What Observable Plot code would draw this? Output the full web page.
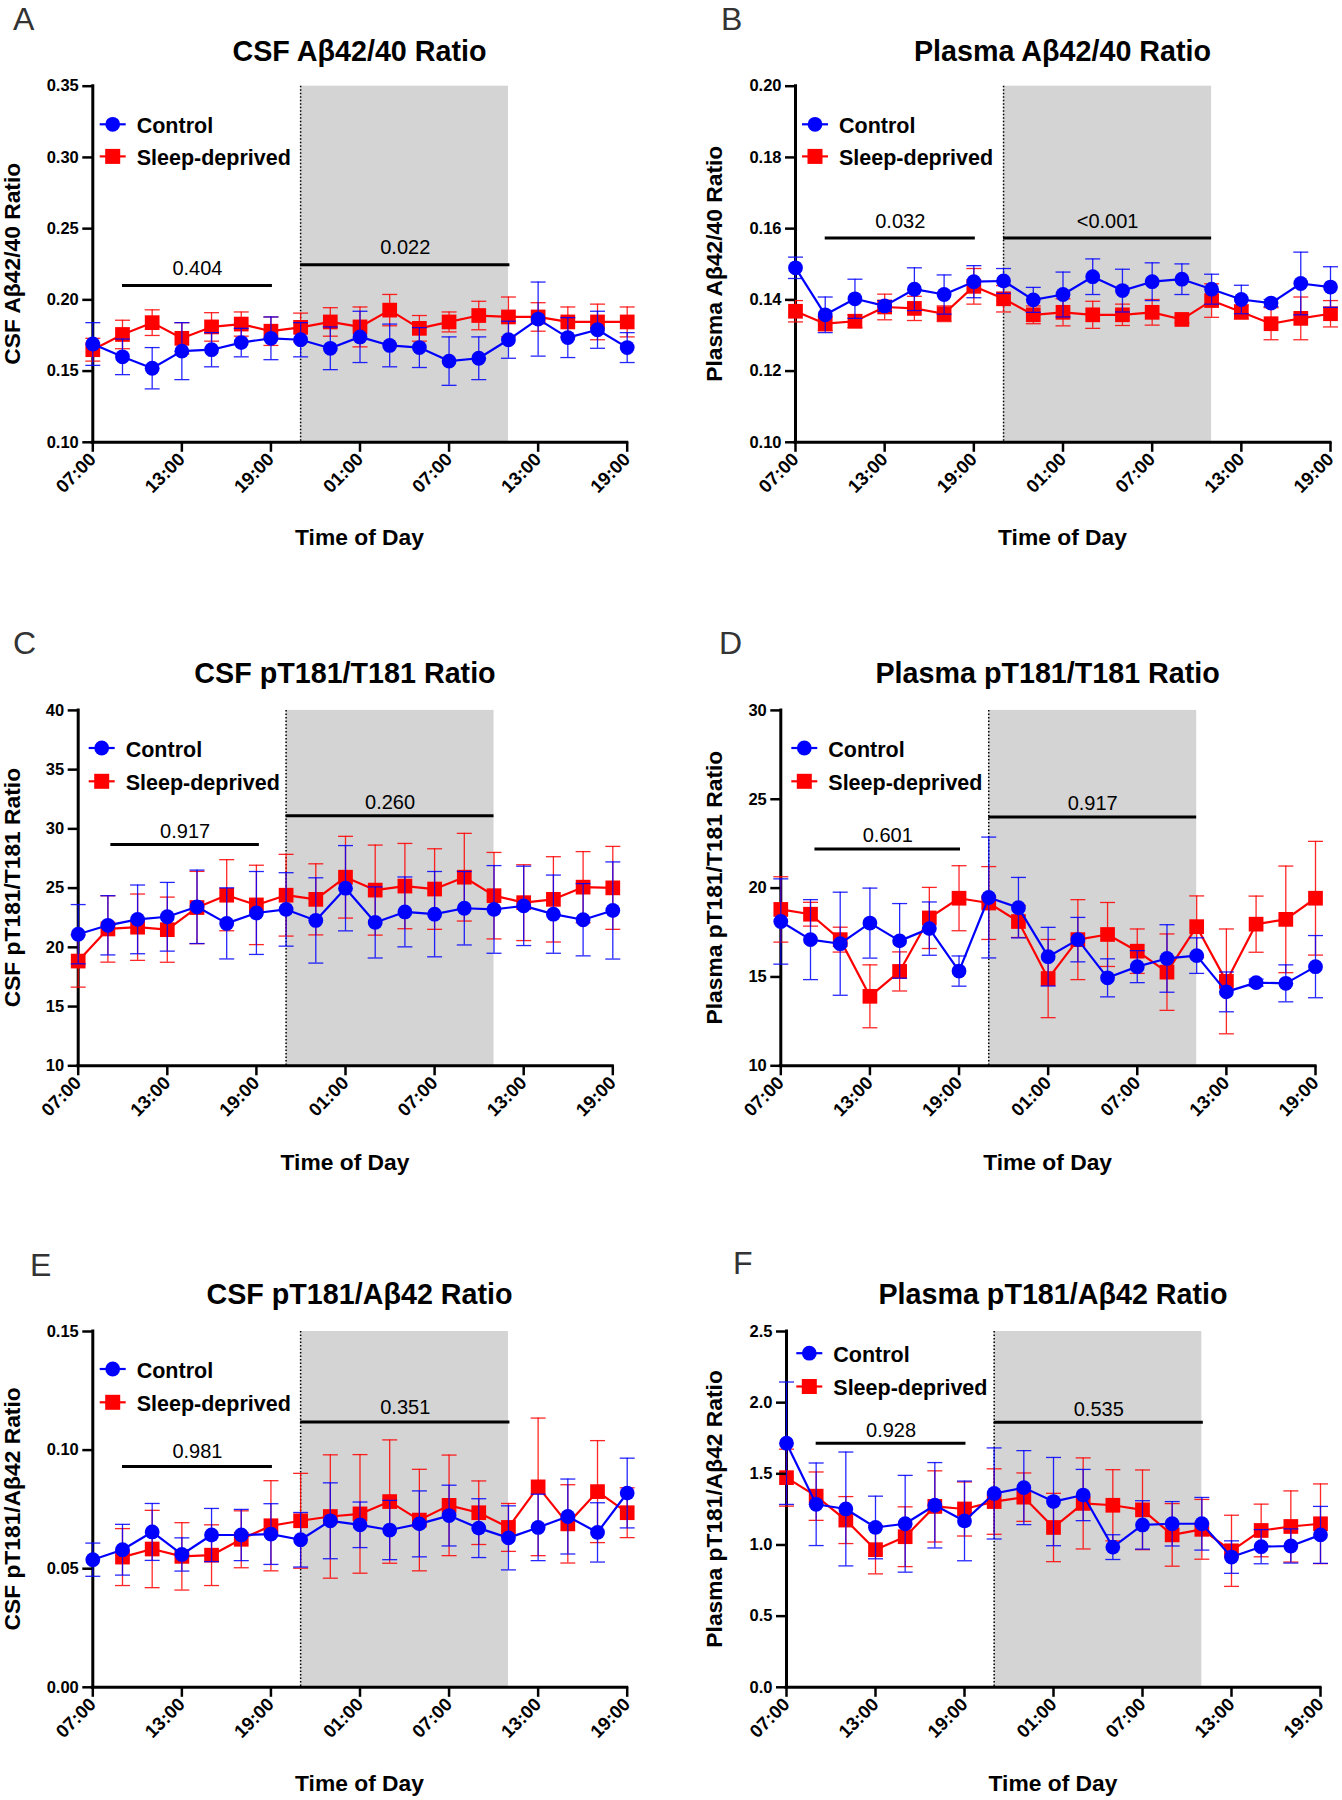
<!DOCTYPE html>
<html><head><meta charset="utf-8">
<script src="https://cdn.jsdelivr.net/npm/d3@7"></script>
<script src="https://cdn.jsdelivr.net/npm/@observablehq/plot@0.6"></script>
<style>
body{margin:0;background:#fff;}
#root{position:relative;width:1342px;height:1800px;overflow:hidden;background:#fff;}
#root svg{position:absolute;}
</style></head><body><div id="root"></div>
<script>
// ---------- DATA ----------
const hours = [0,2,4,6,8,10,12,14,16,18,20,22,24,26,28,30,32,34,36]; // hours after 07:00
const xDomain = [0, 36];
const xTickHours = [0,6,12,18,24,30,36];
const xTickLabels = ["07:00","13:00","19:00","01:00","07:00","13:00","19:00"];
const seriesNames = ["Control","Sleep-deprived"];
const nightStart = 14, nightEnd = 28; // 21:00 -> 11:00

// A: CSF Aβ42/40
const csfAb_ctrl = [0.169,0.160,0.152,0.164,0.165,0.170,0.173,0.172,0.166,0.174,0.168,0.1665,0.157,0.159,0.172,0.1865,0.1735,0.179,0.1665];
const csfAb_ctrlSem = [0.015,0.0125,0.0145,0.020,0.012,0.010,0.015,0.012,0.015,0.018,0.015,0.014,0.017,0.015,0.013,0.026,0.014,0.013,0.0105];
const csfAb_sd = [0.165,0.1757,0.184,0.173,0.181,0.183,0.178,0.1807,0.1845,0.181,0.1928,0.180,0.1845,0.189,0.188,0.188,0.1845,0.1845,0.1845];
const csfAb_sdSem = [0.008,0.010,0.009,0.011,0.010,0.0085,0.010,0.010,0.010,0.014,0.011,0.009,0.007,0.010,0.014,0.010,0.0105,0.0125,0.0105];
const csfAb_yTicks = [0.10,0.15,0.20,0.25,0.30,0.35];
const csfAb_sig = [{x1:2,x2:12.1,y:0.21,label:"0.404"},{x1:14,x2:28.1,y:0.2246,label:"0.022"}];

// B: Plasma Aβ42/40
const plAb_ctrl = [0.149,0.1358,0.1403,0.1383,0.143,0.1415,0.1451,0.1453,0.140,0.1415,0.1465,0.1426,0.1451,0.1458,0.143,0.1401,0.1391,0.1446,0.1436];
const plAb_ctrlSem = [0.003,0.005,0.0055,0.0015,0.006,0.0055,0.0045,0.0035,0.0035,0.0063,0.005,0.006,0.0053,0.0043,0.0042,0.004,0.001,0.0088,0.0057];
const plAb_sd = [0.1368,0.1333,0.134,0.138,0.1376,0.1361,0.1438,0.1403,0.1358,0.1365,0.1358,0.1358,0.1365,0.1345,0.1398,0.1366,0.1333,0.1348,0.1361];
const plAb_sdSem = [0.003,0.002,0.0018,0.0036,0.0034,0.0022,0.005,0.0037,0.0025,0.0038,0.0038,0.003,0.0036,0.001,0.0047,0.002,0.0045,0.006,0.0037];
const plAb_yTicks = [0.10,0.12,0.14,0.16,0.18,0.20];
const plAb_sig = [{x1:2,x2:12.1,y:0.1574,label:"0.032"},{x1:14,x2:28,y:0.1574,label:"<0.001"}];

// C: CSF pT181/T181
const csfPt_ctrl = [21.11,21.86,22.36,22.58,23.42,22.02,22.9,23.2,22.27,24.99,22.1,22.99,22.8,23.3,23.2,23.5,22.8,22.33,23.11];
const csfPt_ctrlSem = [2.5,2.5,2.9,2.9,3.1,3.0,3.5,3.1,3.6,3.6,3.0,2.95,3.6,3.1,3.7,3.35,3.3,3.05,4.1];
const csfPt_sd = [18.84,21.55,21.7,21.49,23.36,24.4,23.58,24.4,24.05,25.92,24.83,25.17,24.92,25.92,24.36,23.77,24.05,25.08,25.02];
const csfPt_sdSem = [2.2,2.8,2.8,2.75,3.05,3.0,3.35,3.45,3.0,3.45,3.8,3.6,3.4,3.7,3.65,3.2,3.6,3.0,3.5];
const csfPt_yTicks = [10,15,20,25,30,35,40];
const csfPt_sig = [{x1:2.2,x2:12.2,y:28.67,label:"0.917"},{x1:14,x2:28,y:31.1,label:"0.260"}];

// D: Plasma pT181/T181
const plPt_ctrl = [18.12,17.1,16.87,18.03,17.03,17.72,15.33,19.47,18.9,16.14,17.1,14.95,15.58,16.04,16.2,14.16,14.68,14.64,15.58];
const plPt_ctrlSem = [2.4,2.25,2.9,1.97,2.1,1.5,0.85,3.4,1.7,1.65,1.25,1.07,0.9,1.9,1.0,1.12,0.2,1.04,1.75];
const plPt_sd = [18.8,18.53,17.1,13.91,15.31,18.32,19.43,19.16,18.12,14.91,17.1,17.39,16.45,15.27,17.83,14.75,17.97,18.24,19.43];
const plPt_sdSem = [1.84,0.67,0.7,1.77,1.1,1.72,1.83,2.05,0.9,2.2,2.25,1.8,1.25,2.15,1.73,2.95,1.58,3.0,3.2];
const plPt_yTicks = [10,15,20,25,30];
const plPt_sig = [{x1:2.3,x2:12.1,y:22.2,label:"0.601"},{x1:14,x2:28,y:24.0,label:"0.917"}];

// E: CSF pT181/Aβ42
const csfPtAb_ctrl = [0.0538,0.058,0.0655,0.056,0.0642,0.0642,0.0646,0.0622,0.0702,0.0685,0.0663,0.0689,0.0724,0.0671,0.063,0.0674,0.072,0.0653,0.0819];
const csfPtAb_ctrlSem = [0.007,0.0107,0.012,0.007,0.0112,0.0108,0.0128,0.0115,0.016,0.0096,0.0125,0.0139,0.0128,0.0124,0.0135,0.014,0.0158,0.0125,0.0147];
const csfPtAb_sd = [null,0.0549,0.0583,0.0552,0.0557,0.0624,0.0681,0.0702,0.072,0.0731,0.0783,0.0705,0.0767,0.0736,0.0674,0.0845,0.0689,0.0825,0.0736];
const csfPtAb_sdSem = [null,0.012,0.0163,0.0142,0.0128,0.012,0.019,0.020,0.026,0.025,0.026,0.0214,0.0212,0.0134,0.0101,0.029,0.0165,0.0215,0.0105];
const csfPtAb_yTicks = [0.00,0.05,0.10,0.15];
const csfPtAb_sig = [{x1:2,x2:12.1,y:0.0931,label:"0.981"},{x1:14,x2:28.1,y:0.1118,label:"0.351"}];

// F: Plasma pT181/Aβ42
const plPtAb_ctrl = [1.715,1.286,1.253,1.123,1.149,1.279,1.169,1.362,1.403,1.305,1.351,0.985,1.141,1.149,1.149,0.915,0.988,0.993,1.071];
const plPtAb_ctrlSem = [0.43,0.29,0.4,0.22,0.34,0.3,0.28,0.32,0.26,0.31,0.18,0.087,0.17,0.156,0.185,0.114,0.12,0.12,0.2];
const plPtAb_sd = [1.473,1.343,1.175,0.967,1.058,1.271,1.253,1.305,1.336,1.123,1.292,1.279,1.247,1.071,1.11,0.959,1.102,1.13,1.149];
const plPtAb_sdSem = [0.2,0.17,0.165,0.17,0.21,0.25,0.19,0.23,0.17,0.24,0.32,0.25,0.28,0.22,0.21,0.25,0.185,0.25,0.28];
const plPtAb_yTicks = [0.0,0.5,1.0,1.5,2.0,2.5];
const plPtAb_sig = [{x1:2,x2:12.1,y:1.715,label:"0.928"},{x1:14,x2:28.1,y:1.863,label:"0.535"}];

// ---------- LAYOUT ----------
const FONT = '"Liberation Sans", Arial, Helvetica, sans-serif';
const BLUE = "#0000ff", RED = "#ff0000";
const panels = [
  {letter:"A", letterPos:[13,30.4], title:"CSF Aβ42/40 Ratio", ylab:"CSF Aβ42/40 Ratio",
   ctrl:csfAb_ctrl, ctrlSem:csfAb_ctrlSem, sd:csfAb_sd, sdSem:csfAb_sdSem, yTicks:csfAb_yTicks, fmt:".2f", sig:csfAb_sig,
   col:0, svgTop:65, svgH:440, frame:[92.3,626.7,85.7,441.8], titleY:60.7, xlabY:544.6, ylabX:20, legend:[112.7,124.3,32.1], gap:11},
  {letter:"B", letterPos:[721,30.4], title:"Plasma Aβ42/40 Ratio", ylab:"Plasma Aβ42/40 Ratio",
   ctrl:plAb_ctrl, ctrlSem:plAb_ctrlSem, sd:plAb_sd, sdSem:plAb_sdSem, yTicks:plAb_yTicks, fmt:".2f", sig:plAb_sig,
   col:1, svgTop:65, svgH:440, frame:[795,1330,85.7,441.8], titleY:60.7, xlabY:544.6, ylabX:722, legend:[815,124.3,32.1], gap:10},
  {letter:"C", letterPos:[13,653.6], title:"CSF pT181/T181 Ratio", ylab:"CSF pT181/T181 Ratio",
   ctrl:csfPt_ctrl, ctrlSem:csfPt_ctrlSem, sd:csfPt_sd, sdSem:csfPt_sdSem, yTicks:csfPt_yTicks, fmt:"d", sig:csfPt_sig,
   col:0, svgTop:690, svgH:440, frame:[77.7,612.3,709.9,1065.3], titleY:683.2, xlabY:1169.6, ylabX:20, legend:[101.7,748,33.3], gap:7},
  {letter:"D", letterPos:[719,653.6], title:"Plasma pT181/T181 Ratio", ylab:"Plasma pT181/T181 Ratio",
   ctrl:plPt_ctrl, ctrlSem:plPt_ctrlSem, sd:plPt_sd, sdSem:plPt_sdSem, yTicks:plPt_yTicks, fmt:"d", sig:plPt_sig,
   col:1, svgTop:690, svgH:440, frame:[780.3,1315,709.9,1065.3], titleY:683.2, xlabY:1169.6, ylabX:722, legend:[804.3,748,33.3], gap:7},
  {letter:"E", letterPos:[30,1275.5], title:"CSF pT181/Aβ42 Ratio", ylab:"CSF pT181/Aβ42 Ratio",
   ctrl:csfPtAb_ctrl, ctrlSem:csfPtAb_ctrlSem, sd:csfPtAb_sd, sdSem:csfPtAb_sdSem, yTicks:csfPtAb_yTicks, fmt:".2f", sig:csfPtAb_sig,
   col:0, svgTop:1310, svgH:440, frame:[92.3,626.7,1331,1686.8], titleY:1304.3, xlabY:1790.8, ylabX:20, legend:[112.7,1369,33.3], gap:8},
  {letter:"F", letterPos:[733,1273.6], title:"Plasma pT181/Aβ42 Ratio", ylab:"Plasma pT181/Aβ42 Ratio",
   ctrl:plPtAb_ctrl, ctrlSem:plPtAb_ctrlSem, sd:plPtAb_sd, sdSem:plPtAb_sdSem, yTicks:plPtAb_yTicks, fmt:".1f", sig:plPtAb_sig,
   col:1, svgTop:1310, svgH:440, frame:[786,1320,1331,1686.8], titleY:1304.3, xlabY:1790.8, ylabX:722, legend:[809.3,1353.2,33.3], gap:6.5}
];

const capSymbol = {draw(ctx, size){ const w = Math.sqrt(size/Math.PI); ctx.moveTo(-w,0); ctx.lineTo(w,0); }};
const root = document.getElementById("root");

function rowsOf(vals, sems){
  const out = [];
  hours.forEach((h,i) => { if (vals[i] != null) out.push({x:h, v:vals[i], e:sems[i]}); });
  return out;
}

function seriesMarks(rows, color, symbol, r){
  return [
    Plot.ruleX(rows, {x:"x", y1:d=>d.v-d.e, y2:d=>d.v+d.e, stroke:color, strokeWidth:1.3, strokeOpacity:0.85}),
    Plot.dot(rows, {x:"x", y:d=>d.v+d.e, symbol:capSymbol, r:7.5, stroke:color, strokeWidth:1.3, strokeOpacity:0.85}),
    Plot.dot(rows, {x:"x", y:d=>d.v-d.e, symbol:capSymbol, r:7.5, stroke:color, strokeWidth:1.3, strokeOpacity:0.85}),
    Plot.line(rows, {x:"x", y:"v", stroke:color, strokeWidth:2.2}),
    Plot.dot(rows, {x:"x", y:"v", symbol, r, fill:color, stroke:"none"})
  ];
}

panels.forEach(p => {
  const left = p.col*671, W = 671;
  const [fx0, fx1, fy0, fy1] = p.frame;
  const yDomain = d3.extent(p.yTicks);
  const ctrlRows = rowsOf(p.ctrl, p.ctrlSem);
  const sdRows = rowsOf(p.sd, p.sdSem);
  const fmt = d3.format(p.fmt);
  const svg = Plot.plot({
    width: W, height: p.svgH,
    marginLeft: fx0-left, marginRight: left+W-fx1, marginTop: fy0-p.svgTop, marginBottom: p.svgTop+p.svgH-fy1,
    x: {domain: xDomain},
    y: {domain: yDomain},
    style: {fontFamily: FONT, background: "transparent", color: "black", overflow: "visible"},
    marks: [
      Plot.rect([{a:nightStart, b:nightEnd}], {x1:"a", x2:"b", fill:"#d4d4d4"}),
      Plot.ruleX([nightStart], {stroke:"black", strokeWidth:1.5, strokeDasharray:"1.5,2"}),
      Plot.ruleY(p.sig, {y:"y", x1:"x1", x2:"x2", stroke:"black", strokeWidth:3}),
      Plot.text(p.sig, {x:d=>(d.x1+d.x2)/2, y:"y", text:"label", dy:-p.gap, lineAnchor:"bottom", fontSize:20, fontWeight:"normal", fill:"black"}),
      Plot.ruleX([xDomain[0]], {stroke:"black", strokeWidth:3, strokeLinecap:"square"}),
      Plot.ruleY([yDomain[0]], {stroke:"black", strokeWidth:3, strokeLinecap:"square"}),
      ...seriesMarks(sdRows, RED, "square", 8.3),
      ...seriesMarks(ctrlRows, BLUE, "circle", 7.4),
      Plot.axisY({ticks:p.yTicks, tickFormat:fmt, tickSize:10, tickPadding:4, fontSize:16.5, fontWeight:"bold", strokeWidth:2.5, label:null}),
      Plot.axisX({ticks:xTickHours, tickFormat:d=>xTickLabels[xTickHours.indexOf(d)], tickRotate:-45, tickSize:10, tickPadding:4, fontSize:18.5, fontWeight:"bold", strokeWidth:2.5, label:null})
    ]
  });
  // enforce tick-label typography
  const s = d3.select(svg);
  s.selectAll('g[aria-label="y-axis tick label"]').attr("font-size", 16.5).attr("font-weight", "bold")
    .selectAll("text").attr("font-size", 16.5).attr("font-weight", "bold");
  s.selectAll('g[aria-label="x-axis tick label"]').attr("font-size", 18.5).attr("font-weight", "bold")
    .selectAll("text").attr("font-size", 18.5).attr("font-weight", "bold");
  svg.style.left = left + "px";
  svg.style.top = p.svgTop + "px";
  root.appendChild(svg);
});

// ---------- TEXT OVERLAY (titles, axis titles, legends, panel letters) ----------
const ov = d3.select(root).append("svg")
  .attr("width",1342).attr("height",1800)
  .style("left","0px").style("top","0px")
  .style("font-family", FONT);

panels.forEach(p => {
  const [fx0, fx1, fy0, fy1] = p.frame;
  const cx = (fx0+fx1)/2, cy = (fy0+fy1)/2;
  ov.append("text").attr("x", p.letterPos[0]).attr("y", p.letterPos[1])
    .attr("font-size", 32).attr("fill", "#333").text(p.letter);
  ov.append("text").attr("x", cx).attr("y", p.titleY).attr("text-anchor","middle")
    .attr("font-size", 28.7).attr("font-weight","bold").text(p.title);
  ov.append("text").attr("transform", `translate(${p.ylabX},${cy}) rotate(-90)`).attr("text-anchor","middle")
    .attr("font-size", 22.8).attr("font-weight","bold").text(p.ylab);
  ov.append("text").attr("x", cx).attr("y", p.xlabY).attr("text-anchor","middle")
    .attr("font-size", 22.8).attr("font-weight","bold").text("Time of Day");
  // legend
  const [lx, ly, step] = p.legend;
  const items = [{name:seriesNames[0], color:BLUE, sym:"circle"}, {name:seriesNames[1], color:RED, sym:"square"}];
  items.forEach((it, k) => {
    const y = ly + k*step;
    ov.append("line").attr("x1", lx-13).attr("x2", lx+13).attr("y1", y).attr("y2", y)
      .attr("stroke", it.color).attr("stroke-width", 2.2);
    if (it.sym === "circle") ov.append("circle").attr("cx", lx).attr("cy", y).attr("r", 7.4).attr("fill", it.color);
    else ov.append("rect").attr("x", lx-7.5).attr("y", y-7.5).attr("width", 15).attr("height", 15).attr("fill", it.color);
    ov.append("text").attr("x", lx+24).attr("y", y+8.5).attr("font-size", 21.5).attr("font-weight","bold").text(it.name);
  });
});
</script></body></html>
